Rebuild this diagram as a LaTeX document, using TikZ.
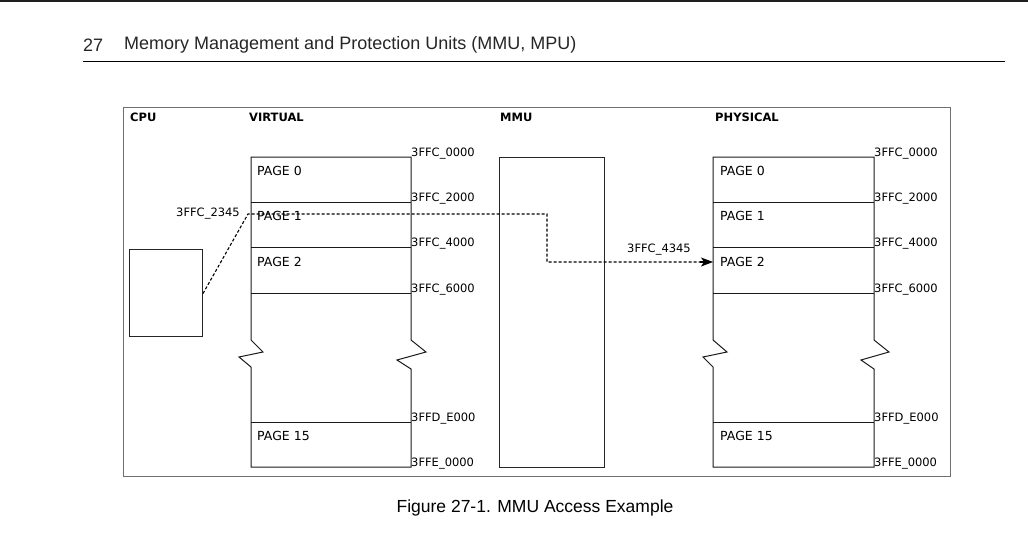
\documentclass[tikz,border=0pt]{standalone}
\usepackage{fontspec}
\setmainfont{DejaVu Sans}
\newfontfamily\hdrfont{Liberation Sans}
\usetikzlibrary{arrows.meta}
\definecolor{framegray}{HTML}{707070}
\tikzset{
  lbl/.style={font=\fontsize{11.5}{13}\selectfont, inner sep=0pt, anchor=base west},
  pagelbl/.style={font=\fontsize{12.5}{14}\selectfont, inner sep=0pt, anchor=west},
  hdr/.style={font=\bfseries\fontsize{11.5}{13}\selectfont, inner sep=0pt, anchor=west},
  colline/.style={line width=1pt, black!90},
  boxstyle/.style={draw=black!85, line width=1pt, inner sep=0pt},
  conn/.style={line width=1.1pt, dash pattern=on 3pt off 2pt, black},
  tipstyle/.style={line width=1.1pt, solid, black, -{Stealth[length=12pt,width=9pt,inset=3pt]}},
}
\begin{document}
\begin{tikzpicture}[x=1pt,y=-1pt]
\useasboundingbox (0,0) rectangle (1028,541);
% page header
\fill[black!88] (0,0) rectangle (1028,1.6);
\node[font=\hdrfont\fontsize{18}{20}\selectfont, inner sep=0pt, anchor=west, black!85] (hnum) at (83,45) {27};
\node[font=\hdrfont\fontsize{18}{20}\selectfont, inner sep=0pt, anchor=west, black!85] (htitle) at (124,45) {Memory Management and Protection Units (MMU, MPU)};
\draw[line width=1pt] (83,61) -- (1005,61);
% frame
\draw[framegray, line width=0.9pt] (123,107) rectangle (950,476);
% headers
\node[hdr] (hcpu) at (130,117) {CPU};
\node[hdr] (hvirt) at (249,117) {VIRTUAL};
\node[hdr] (hmmu) at (500,117) {MMU};
\node[hdr] (hphys) at (715,117) {PHYSICAL};
% CPU box
\node[boxstyle, minimum width=73pt, minimum height=87pt, anchor=north west] (cpu) at (129,249) {};
% MMU box
\node[boxstyle, minimum width=105pt, minimum height=310pt, anchor=north west] (mmu) at (499,157) {};
% virtual column
\draw[colline] (251,157) -- (411,157) -- (411,340) -- (426,352) -- (397,360) -- (411,369) -- (411,467)
  -- (251,467) -- (251,367) -- (239,357) -- (263,352) -- (251,340) -- cycle;
\foreach \y in {202,247,293,422} \draw[colline] (251,\y) -- (411,\y);
% physical column
\draw[colline] (713,157) -- (874,157) -- (874,340) -- (889,352) -- (861,360) -- (874,369) -- (874,467)
  -- (713,467) -- (713,367) -- (703,357) -- (727,352) -- (713,340) -- cycle;
\foreach \y in {202,247,293,422} \draw[colline] (713,\y) -- (874,\y);
% page labels
\node[pagelbl] (vp0) at (257,171) {PAGE 0};
\node[pagelbl] (vp1) at (257,216) {PAGE 1};
\node[pagelbl] (vp2) at (257,262) {PAGE 2};
\node[pagelbl] (vp15) at (257,436) {PAGE 15};
\node[pagelbl] (pp0) at (720,171) {PAGE 0};
\node[pagelbl] (pp1) at (720,216) {PAGE 1};
\node[pagelbl] (pp2) at (720,262) {PAGE 2};
\node[pagelbl] (pp15) at (720,436) {PAGE 15};
% address labels
\foreach \y/\t [count=\i] in {157/3FFC\_0000,202/3FFC\_2000,247/3FFC\_4000,293/3FFC\_6000,422/3FFD\_E000,467/3FFE\_0000}{
  \node[lbl] (va\i) at (411,\y-1) {\t};
  \node[lbl] (pa\i) at (874,\y-1) {\t};
}
% access path
\coordinate (vaddr) at (248,214);
\coordinate (bendA) at (547,214);
\coordinate (bendB) at (547,262);
\coordinate (paddr) at (713,262);
\coordinate (tipstart) at (700,262);
\node[font=\fontsize{11.5}{13}\selectfont, inner sep=0pt, anchor=east] (l2345) at (240,214) {3FFC\_2345};
\node[font=\fontsize{11.5}{13}\selectfont, inner sep=0pt, anchor=west] (l4345) at (627,250) {3FFC\_4345};
\draw[conn] ([yshift=-0.5pt]cpu.east) -- (vaddr) -- (bendA) -- (bendB) -- (tipstart);
\draw[tipstyle] (tipstart) -- (paddr);
% caption
\node[font=\hdrfont\fontsize{17.5}{20}\selectfont, inner sep=0pt] (cap) at (535,508) {Figure 27-1. MMU Access Example};
\end{tikzpicture}
\end{document}
